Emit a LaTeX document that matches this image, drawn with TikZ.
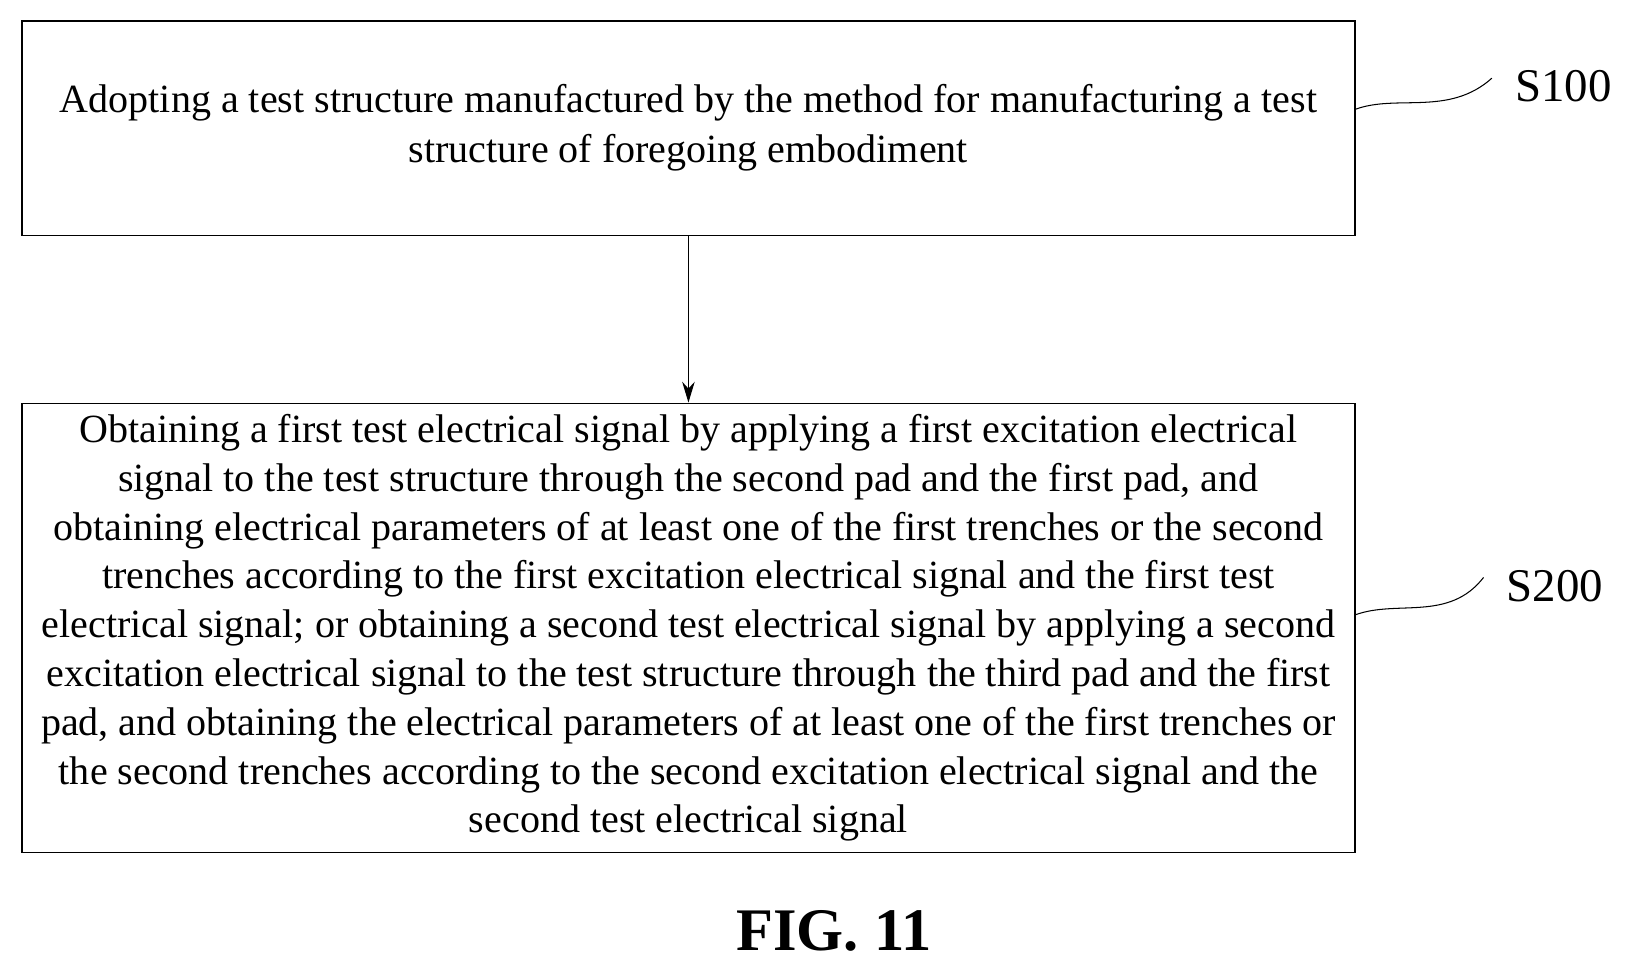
\documentclass[tikz,border=0pt]{standalone}
\usepackage{fontspec}
\setmainfont{Liberation Serif}
\usetikzlibrary{calc, positioning, arrows.meta}

\tikzset{stepbox/.style={draw, line width=0.7pt, align=center, inner sep=0pt,
    minimum width=639.5pt, font=\fontsize{19.2}{23.4}\selectfont},
  steplabel/.style={font=\fontsize{22.5}{25}\selectfont, inner sep=1pt},
  wave/.style={line width=0.5pt}}

\begin{document}
\begin{tikzpicture}[x=0.5pt, y=-0.5pt]
\useasboundingbox (0,0) rectangle (1560,930);
\node[stepbox, minimum height=103pt, font=\fontsize{19.2}{24}\selectfont] (b1) at (660.5,123)
  {Adopting a test structure manufactured by the method for manufacturing a test\\
   structure of foregoing embodiment};
\node[stepbox, minimum height=215.5pt] (b2) at (660.5,602.5)
  {Obtaining a first test electrical signal by applying a first excitation electrical\\
   signal to the test structure through the second pad and the first pad, and\\
   obtaining electrical parameters of at least one of the first trenches or the second\\
   trenches according to the first excitation electrical signal and the first test\\
   electrical signal; or obtaining a second test electrical signal by applying a second\\
   excitation electrical signal to the test structure through the third pad and the first\\
   pad, and obtaining the electrical parameters of at least one of the first trenches or\\
   the second trenches according to the second excitation electrical signal and the\\
   second test electrical signal};
\draw[-{Stealth[length=10pt,width=6pt]}, line width=0.6pt] (b1.south) -- (b2.north);

% step labels
\node[steplabel] (s1) at (1500,83) {S100};
\node[steplabel] (s2) at (1492,562) {S200};
\coordinate (w1) at (1300,105);
\coordinate (w2) at (1300,590);
\draw[wave] (w1) .. controls (1340,90) and (1390,112) .. ([xshift=-10pt,yshift=4pt]s1.west);
\draw[wave] (w2) .. controls (1340,575) and (1390,597) .. ([xshift=-10pt,yshift=4pt]s2.west);

\node[font=\fontsize{29}{32}\selectfont\bfseries] (fig) at (800,893) {FIG. 11};
\end{tikzpicture}
\end{document}
